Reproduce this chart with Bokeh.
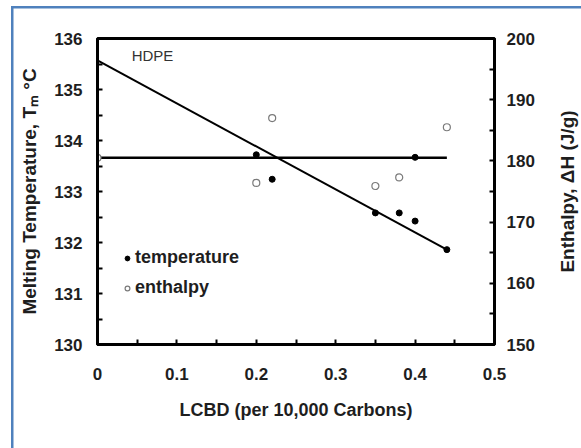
from bokeh.plotting import figure
from bokeh.models import (Range1d, LinearAxis, FixedTicker, Legend, LegendItem,
                          Label, InlineStyleSheet)
from bokeh.embed import file_html
from bokeh.resources import INLINE

# LCBD (per 10,000 carbons) and melting temperature (deg C)
temp_lcbd = [0.20, 0.22, 0.35, 0.38, 0.40, 0.40, 0.44]
temp_tm = [133.72, 133.24, 132.58, 132.58, 132.42, 133.67, 131.86]

# LCBD and melting enthalpy (J/g)
enth_lcbd = [0.0, 0.20, 0.22, 0.35, 0.38, 0.44]
enth_dh = [180.5, 176.4, 187.0, 175.9, 177.3, 185.5]

# linear trend of Tm and mean enthalpy level
trend_lcbd = [0.0, 0.44]
trend_tm = [135.57, 131.86]
mean_lcbd = [0.0, 0.44]
mean_dh = [180.5, 180.5]

x_ticks = [0.0, 0.1, 0.2, 0.3, 0.4, 0.5]
x_minor = [0.05, 0.15, 0.25, 0.35, 0.45]
tm_ticks = [130, 131, 132, 133, 134, 135, 136]
tm_minor = [130.5, 131.5, 132.5, 133.5, 134.5, 135.5]
dh_ticks = [150, 160, 170, 180, 190, 200]
dh_minor = [155, 165, 175, 185, 195]

FONT = "Liberation Sans"
TXT = "#1e1e1e"

p = figure(width=581, height=448, output_backend="svg", toolbar_location=None,
           x_range=Range1d(0, 0.5), y_range=Range1d(130, 136),
           min_border_left=97, min_border_right=87,
           min_border_top=38, min_border_bottom=104,
           x_axis_location=None, y_axis_location=None)
p.extra_y_ranges = {"dh": Range1d(150, 200)}
p.grid.visible = False
p.background_fill_color = "white"
p.border_fill_color = None
p.outline_line_color = "black"
p.outline_line_width = 3

xaxis = LinearAxis(ticker=FixedTicker(ticks=x_ticks, minor_ticks=x_minor),
                   axis_label="LCBD (per 10,000 Carbons)")
yaxis = LinearAxis(ticker=FixedTicker(ticks=tm_ticks, minor_ticks=tm_minor),
                   axis_label="Melting Temperature, Tₘ °C")
raxis = LinearAxis(y_range_name="dh",
                   ticker=FixedTicker(ticks=dh_ticks, minor_ticks=dh_minor))
for ax in (xaxis, yaxis, raxis):
    ax.axis_line_width = 3
    ax.axis_line_color = "black"
    ax.major_tick_in = 5
    ax.major_tick_out = 0
    ax.minor_tick_in = 5
    ax.minor_tick_out = 0
    ax.major_tick_line_width = 2
    ax.minor_tick_line_width = 2
    ax.major_label_text_font = FONT
    ax.major_label_text_font_style = "bold"
    ax.major_label_text_font_size = "17px"
    ax.major_label_text_color = TXT
    ax.axis_label_text_font = FONT
    ax.axis_label_text_font_style = "bold"
    ax.axis_label_text_font_size = "19px"
    ax.axis_label_text_color = TXT
xaxis.axis_label_text_font_size = "18px"
xaxis.major_label_standoff = 23
xaxis.axis_label_standoff = 17
yaxis.major_label_standoff = 15
yaxis.axis_label_standoff = 11
raxis.major_label_standoff = 12
xaxis.major_label_overrides = {0: "0"}
p.add_layout(xaxis, "below")
p.add_layout(yaxis, "left")
p.add_layout(raxis, "right")

# right-hand title, reading upward like the left one (side panel, so not clipped)
p.add_layout(Label(x=0.5, y=133, x_offset=73, text="Enthalpy, ΔH (J/g)",
                   angle=90, angle_units="deg", text_align="center",
                   text_baseline="middle", text_font=FONT,
                   text_font_style="bold", text_font_size="19px",
                   text_color=TXT), "right")

p.line(trend_lcbd, trend_tm, line_color="black", line_width=2)
p.line(mean_lcbd, mean_dh, y_range_name="dh", line_color="black", line_width=2.5)

r_t = p.scatter(temp_lcbd, temp_tm, size=6, marker="circle",
                fill_color="black", line_color="black")
r_h = p.scatter(enth_lcbd, enth_dh, y_range_name="dh", size=7, marker="circle",
                fill_color="white", line_color="#7a7a7a", line_width=1.2)

legend = Legend(items=[LegendItem(label="temperature", renderers=[r_t]),
                       LegendItem(label="enthalpy", renderers=[r_h])],
                location=(24, 46), orientation="vertical",
                glyph_width=12, glyph_height=16, label_standoff=2,
                spacing=9, padding=0, margin=0,
                border_line_color=None, background_fill_alpha=0,
                label_text_font=FONT, label_text_font_style="bold",
                label_text_font_size="18px", label_text_color=TXT)
p.add_layout(legend, "center")

p.add_layout(Label(x=0.043, y=135.66, text="HDPE", text_font=FONT,
                   text_font_size="15px", text_color="#333333",
                   text_baseline="middle"))

# thin blue frame line along the top and left, painted behind the figure
p.stylesheets = [InlineStyleSheet(css="""
:host {
  background-color: white;
  background-image: linear-gradient(#4f81bd, #4f81bd), linear-gradient(#4f81bd, #4f81bd);
  background-position: 11px 6px, 11px 6px;
  background-size: 2.5px 100%, 100% 2.5px;
  background-repeat: no-repeat;
}
""")]

open("out.html", "w").write(file_html(p, INLINE))
